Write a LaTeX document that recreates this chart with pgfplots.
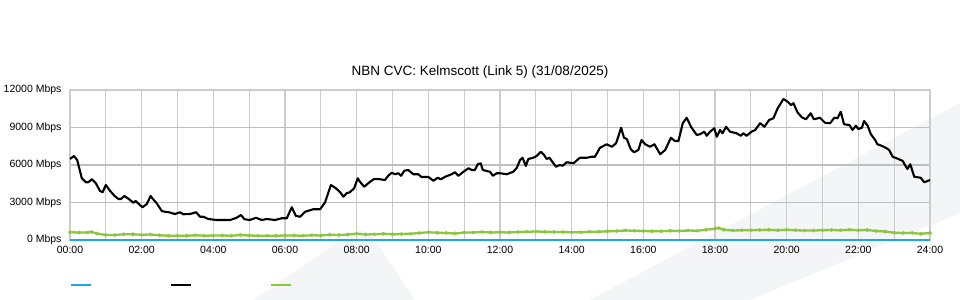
\documentclass[border=0pt]{standalone}
\usepackage{pgfplots}
\pgfplotsset{compat=1.18}
\usepackage{fontspec}
\setmainfont{Liberation Sans}
\definecolor{cvcblue}{RGB}{30,167,225}
\definecolor{cvcgreen}{RGB}{140,198,63}
\definecolor{cvcgreendark}{RGB}{110,170,40}
\definecolor{bandgray}{RGB}{244,245,247}
\definecolor{gridv}{RGB}{204,204,204}
\definecolor{gridh}{RGB}{190,190,190}
\begin{document}
\begin{tikzpicture}
\fill[white] (0bp,0bp) rectangle (960bp,300bp);
% background watermark bands
\fill[bandgray] (590bp,0bp) -- (960bp,197bp) -- (960bp,87bp) -- (750bp,0bp) -- cycle;
\fill[bandgray] (253bp,0bp) -- (350bp,66bp) .. controls (360bp,73bp) and (372bp,68bp) .. (375bp,60bp) -- (415bp,0bp) -- cycle;
\node[font=\fontsize{13.5bp}{16bp}\selectfont, anchor=center] at (480bp,228bp) {NBN CVC: Kelmscott (Link 5) (31/08/2025)};
\begin{axis}[
  at={(70bp,60bp)}, anchor=south west,
  scale only axis, width=860bp, height=150bp,
  xmin=0, xmax=24, ymin=0, ymax=12000,
  scaled y ticks=false, scaled x ticks=false,
  xtick={0,1,...,24},
  xticklabels={00:00,,02:00,,04:00,,06:00,,08:00,,10:00,,12:00,,14:00,,16:00,,18:00,,20:00,,22:00,,24:00},
  ytick={0,3000,6000,9000},
  yticklabels={0 Mbps,3000 Mbps,6000 Mbps,9000 Mbps},
  extra y ticks={12000},
  extra y tick labels={12000 Mbps},
  extra y tick style={ymajorgrids=false},
  xmajorgrids, ymajorgrids,
  major x grid style={draw=gridv, line width=1.3bp},
  major y grid style={draw=gridh, line width=1.6bp},
  axis line style={draw=gridv, line width=1.3bp},
  major tick length=0pt,
  tick label style={font=\fontsize{10.5bp}{12bp}\selectfont},
  xticklabel style={yshift=-3bp},
  yticklabel style={xshift=-5bp},
  /pgf/number format/assume math mode=true,
  clip=false,
  legend style={at={(0,-0.3)}, anchor=west, draw=none, fill=none, inner sep=0pt, outer sep=0pt,
    legend columns=3, nodes={inner sep=0pt, text width=0pt},
    /tikz/every even column/.append style={column sep=77bp}},
  legend image code/.code={\draw[#1, mark=none] (0bp,0bp) -- (20bp,0bp);},
]
\addplot[cvcblue, line width=2.2bp] coordinates {(0,0) (24,0)};
\addlegendentry{}
\addplot[black, line width=2.1bp, line join=round] coordinates {
(0.00,6480) (0.11,6720) (0.20,6400) (0.33,4940) (0.44,4620) (0.51,4620) (0.61,4860) (0.72,4540)
(0.84,3920) (0.91,3820) (1.00,4400) (1.12,3920) (1.24,3540) (1.35,3280) (1.42,3280) (1.52,3520)
(1.65,3260) (1.77,2980) (1.83,3120) (2.02,2620) (2.14,2860) (2.25,3520) (2.32,3260) (2.42,2940)
(2.56,2320) (2.65,2260) (2.76,2220) (2.93,2080) (3.07,2220) (3.16,2060) (3.35,2080) (3.52,2220)
(3.63,1860) (3.72,1860) (3.86,1680) (4.09,1600) (4.47,1600) (4.65,1780) (4.77,2000) (4.87,1660)
(5.02,1600) (5.19,1780) (5.35,1600) (5.49,1680) (5.72,1600) (5.91,1740) (6.05,1740) (6.19,2620)
(6.30,1940) (6.42,1860) (6.56,2260) (6.79,2460) (6.98,2460) (7.12,3020) (7.28,4400) (7.42,4140)
(7.54,3820) (7.63,3460) (7.72,3740) (7.81,3820) (7.93,4140) (8.03,4940) (8.09,4660) (8.21,4260)
(8.34,4580) (8.47,4860) (8.60,4880) (8.79,4800) (8.88,5140) (8.98,5380) (9.07,5260) (9.16,5340)
(9.24,5140) (9.33,5540) (9.44,5600) (9.58,5260) (9.72,5260) (9.81,5040) (10.00,5040) (10.14,4740)
(10.26,4980) (10.35,4860) (10.47,5060) (10.65,5260) (10.74,5420) (10.84,5140) (10.98,5460) (11.12,5740)
(11.21,5600) (11.30,5600) (11.38,6060) (11.46,6140) (11.52,5600) (11.63,5520) (11.72,5460) (11.80,5140)
(11.91,5340) (12.00,5340) (12.19,5260) (12.37,5460) (12.47,5780) (12.56,6400) (12.63,6580) (12.72,5920)
(12.79,6480) (12.93,6580) (13.02,6720) (13.14,7060) (13.23,6800) (13.30,6480) (13.38,6580) (13.47,6220)
(13.56,5860) (13.67,6000) (13.75,5940) (13.86,6220) (14.05,6140) (14.23,6580) (14.42,6580) (14.56,6660)
(14.65,6660) (14.79,7380) (14.98,7660) (15.12,7460) (15.24,7740) (15.30,8260) (15.38,8980) (15.46,8180)
(15.54,8080) (15.65,7260) (15.74,7020) (15.86,7200) (15.95,8000) (16.05,7660) (16.19,7460) (16.31,7660)
(16.47,6860) (16.61,7200) (16.77,8180) (16.88,7920) (16.98,7920) (17.10,9340) (17.21,9780) (17.33,9060)
(17.49,8400) (17.58,8460) (17.70,8660) (17.77,8340) (17.86,8660) (17.98,8940) (18.05,8260) (18.14,8800)
(18.21,8540) (18.31,9060) (18.42,8660) (18.60,8540) (18.72,8340) (18.79,8540) (18.88,8340) (19.02,8660)
(19.12,8800) (19.26,9340) (19.38,9060) (19.51,9600) (19.63,9740) (19.75,10540) (19.91,11280) (20.03,11060)
(20.12,10800) (20.19,10940) (20.30,10220) (20.42,9820) (20.54,9660) (20.67,10140) (20.76,9660) (20.93,9780)
(21.07,9380) (21.21,9340) (21.33,9780) (21.42,9740) (21.51,10260) (21.60,9260) (21.75,9200) (21.84,8800)
(21.93,9140) (22.00,8880) (22.10,8980) (22.16,9520) (22.26,9140) (22.35,8460) (22.47,8000) (22.53,7660)
(22.65,7540) (22.79,7340) (22.86,7200) (22.96,6660) (23.12,6480) (23.24,6320) (23.30,6000) (23.37,5680)
(23.45,6060) (23.56,5060) (23.74,4980) (23.84,4620) (23.93,4720) (24.00,4800)
};
\addlegendentry{}
\addplot[cvcgreen, line width=2.3bp, mark=*, mark size=0.45bp, mark options={fill=cvcgreendark, draw=none}] coordinates {
(0.00,620) (0.25,600) (0.50,600) (0.60,650) (0.75,520) (1.00,400) (1.25,400) (1.50,460) (1.75,460)
(2.00,420) (2.25,440) (2.50,380) (2.75,340) (3.00,340) (3.25,340) (3.50,380) (3.75,340) (4.00,360)
(4.25,360) (4.50,340) (4.75,400) (5.00,360) (5.25,340) (5.50,340) (5.75,340) (6.00,360) (6.25,360)
(6.50,340) (6.75,380) (7.00,360) (7.25,420) (7.50,400) (7.75,440) (8.00,500) (8.25,440) (8.50,460)
(8.75,500) (9.00,460) (9.25,480) (9.50,500) (9.75,560) (10.00,620) (10.25,580) (10.50,560) (10.75,520)
(11.00,600) (11.25,600) (11.50,640) (11.75,600) (12.00,620) (12.25,600) (12.50,640) (12.75,660) (13.00,680)
(13.25,660) (13.50,640) (13.75,640) (14.00,620) (14.25,620) (14.50,660) (14.75,660) (15.00,700) (15.25,720)
(15.50,760) (15.75,740) (16.00,720) (16.25,700) (16.50,700) (16.75,740) (17.00,720) (17.25,760) (17.50,740)
(17.75,820) (18.00,900) (18.10,960) (18.25,820) (18.50,760) (18.75,780) (19.00,780) (19.25,800) (19.50,820)
(19.75,780) (20.00,820) (20.25,780) (20.50,760) (20.75,760) (21.00,780) (21.25,800) (21.50,780) (21.75,820)
(22.00,780) (22.25,800) (22.50,720) (22.75,680) (23.00,580) (23.25,560) (23.50,560) (23.75,500) (24.00,560)
};
\addlegendentry{}
\end{axis}
\pgfresetboundingbox
\useasboundingbox (0bp,0bp) rectangle (960bp,300bp);
\end{tikzpicture}
\end{document}
